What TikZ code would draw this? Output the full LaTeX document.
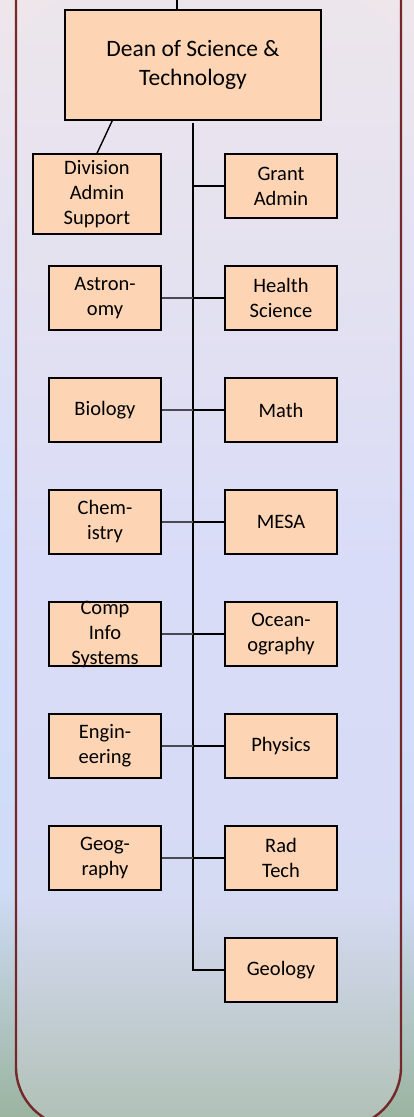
\documentclass[tikz,border=0pt]{standalone}
\usepackage{fontspec}
\setmainfont{Carlito}
\usepackage{xcolor}
\usepackage{tikz}
\usetikzlibrary{
  positioning,
  calc
}
\definecolor{unitfill}{HTML}{FDD5B4}
\definecolor{framered}{HTML}{74282A}
\definecolor{sublinkgray}{HTML}{4A4A55}
\definecolor{obot}{HTML}{9AB4A0}
\definecolor{olow}{HTML}{CFDCF6}
\definecolor{omid}{HTML}{D3DEFC}
\definecolor{ohigh}{HTML}{E3E2F2}
\definecolor{otop}{HTML}{EFE6EB}
\definecolor{ibot}{HTML}{B0C0B4}
\definecolor{ilow}{HTML}{D6DBF4}
\definecolor{imid}{HTML}{D9DCF8}
\definecolor{ihigh}{HTML}{E5E2EF}
\definecolor{itop}{HTML}{ECE5EC}
% 100bp shadings, path spans 25bp--75bp
\pgfdeclareverticalshading{outershade}{100bp}{%
  color(0bp)=(obot); color(25bp)=(obot); color(35.3bp)=(olow);
  color(50bp)=(omid); color(63.9bp)=(ohigh); color(75bp)=(otop);
  color(100bp)=(otop)}
\pgfdeclareverticalshading{innershade}{100bp}{%
  color(0bp)=(ibot); color(25bp)=(ibot); color(35.3bp)=(ilow);
  color(50bp)=(imid); color(63.9bp)=(ihigh); color(75bp)=(itop);
  color(100bp)=(itop)}

\begin{document}
\begin{tikzpicture}[
  x=1pt, y=-1pt,
  deanbox/.style={draw, line width=1.6pt, fill=unitfill,
                  minimum width=256pt, minimum height=110pt, inner sep=0pt,
                  font=\fontsize{23.5}{28.5}\selectfont, align=center},
  unit/.style={draw, line width=1.4pt, fill=unitfill,
               minimum width=112pt, minimum height=64pt, inner sep=0pt,
               font=\fontsize{20.5}{25}\selectfont, align=center},
  unittext/.style={inner sep=0pt, font=\fontsize{20.5}{25}\selectfont,
                   align=center},
  link/.style={line width=1.4pt, black},
  sublink/.style={line width=1.2pt, sublinkgray},
  frame/.style={line width=2.4pt, framered, rounded corners=60pt},
]
  \useasboundingbox (0,0) rectangle (414,1117);
  \clip (0,0) rectangle (414,1117);

  % Background and outline
  \shade[shading=outershade] (0,0) rectangle (414,1117);
  \shade[shading=innershade, rounded corners=60pt]
    (16,0) -- (16,1127) -- (401,1127) -- (401,0) -- cycle;
  \draw[frame] (16,-10) -- (16,1127) -- (401,1127) -- (401,-10);

  % Dean
  \node[deanbox] (dean) at (193,65) {Dean of Science \&\\Technology};
  \coordinate (up) at (177,-2);

  % Staff
  \node[unit, minimum width=128pt, minimum height=80pt] (das) at (97,194)
    {Division\\Admin\\Support};
  \node[unit] (grant) at (281,186) {Grant\\Admin};

  % Departments, left column
  \node[unit] (astro) at (105,298) {Astron-\\omy};
  \node[unit] (bio)   at (105,410) {Biology};
  \node[unit] (chem)  at (105,522) {Chem-\\istry};
  \node[unit] (cis)   at (105,634) {};
  \node[unittext] at (cis) {Comp\\Info\\Systems};
  \node[unit] (engr)  at (105,746) {Engin-\\eering};
  \node[unit] (geog)  at (105,858) {Geog-\\raphy};

  % Departments, right column
  \node[unit] (hsci)  at (281,298) {Health\\Science};
  \node[unit] (math)  at (281,410) {Math};
  \node[unit] (mesa)  at (281,522) {MESA};
  \node[unit] (ocean) at (281,634) {Ocean-\\ography};
  \node[unit] (phys)  at (281,746) {Physics};
  \node[unit] (rad)   at (281,858) {Rad\\Tech};
  \node[unit] (geol)  at (281,970) {Geology};

  % Connectors
  \draw[link] (up) -- (up |- dean.north);
  \draw[link] ([xshift=48pt]dean.south west) -- (das.north);
  \draw[link] ([yshift=-2pt]dean.south) |- (geol.west);
  \draw[link] (grant.west) -- (grant.west -| dean.south);
  \draw[link] (hsci.west)  -- (hsci.west -| dean.south);
  \draw[link] (math.west)  -- (math.west -| dean.south);
  \draw[link] (mesa.west)  -- (mesa.west -| dean.south);
  \draw[link] (ocean.west) -- (ocean.west -| dean.south);
  \draw[link] (phys.west)  -- (phys.west -| dean.south);
  \draw[link] (rad.west)   -- (rad.west -| dean.south);
  \draw[sublink] (astro.east) -- (astro.east -| dean.south);
  \draw[sublink] (bio.east)   -- (bio.east -| dean.south);
  \draw[sublink] (chem.east)  -- (chem.east -| dean.south);
  \draw[sublink] (cis.east)   -- (cis.east -| dean.south);
  \draw[sublink] (engr.east)  -- (engr.east -| dean.south);
  \draw[sublink] (geog.east)  -- (geog.east -| dean.south);

\end{tikzpicture}
\end{document}
